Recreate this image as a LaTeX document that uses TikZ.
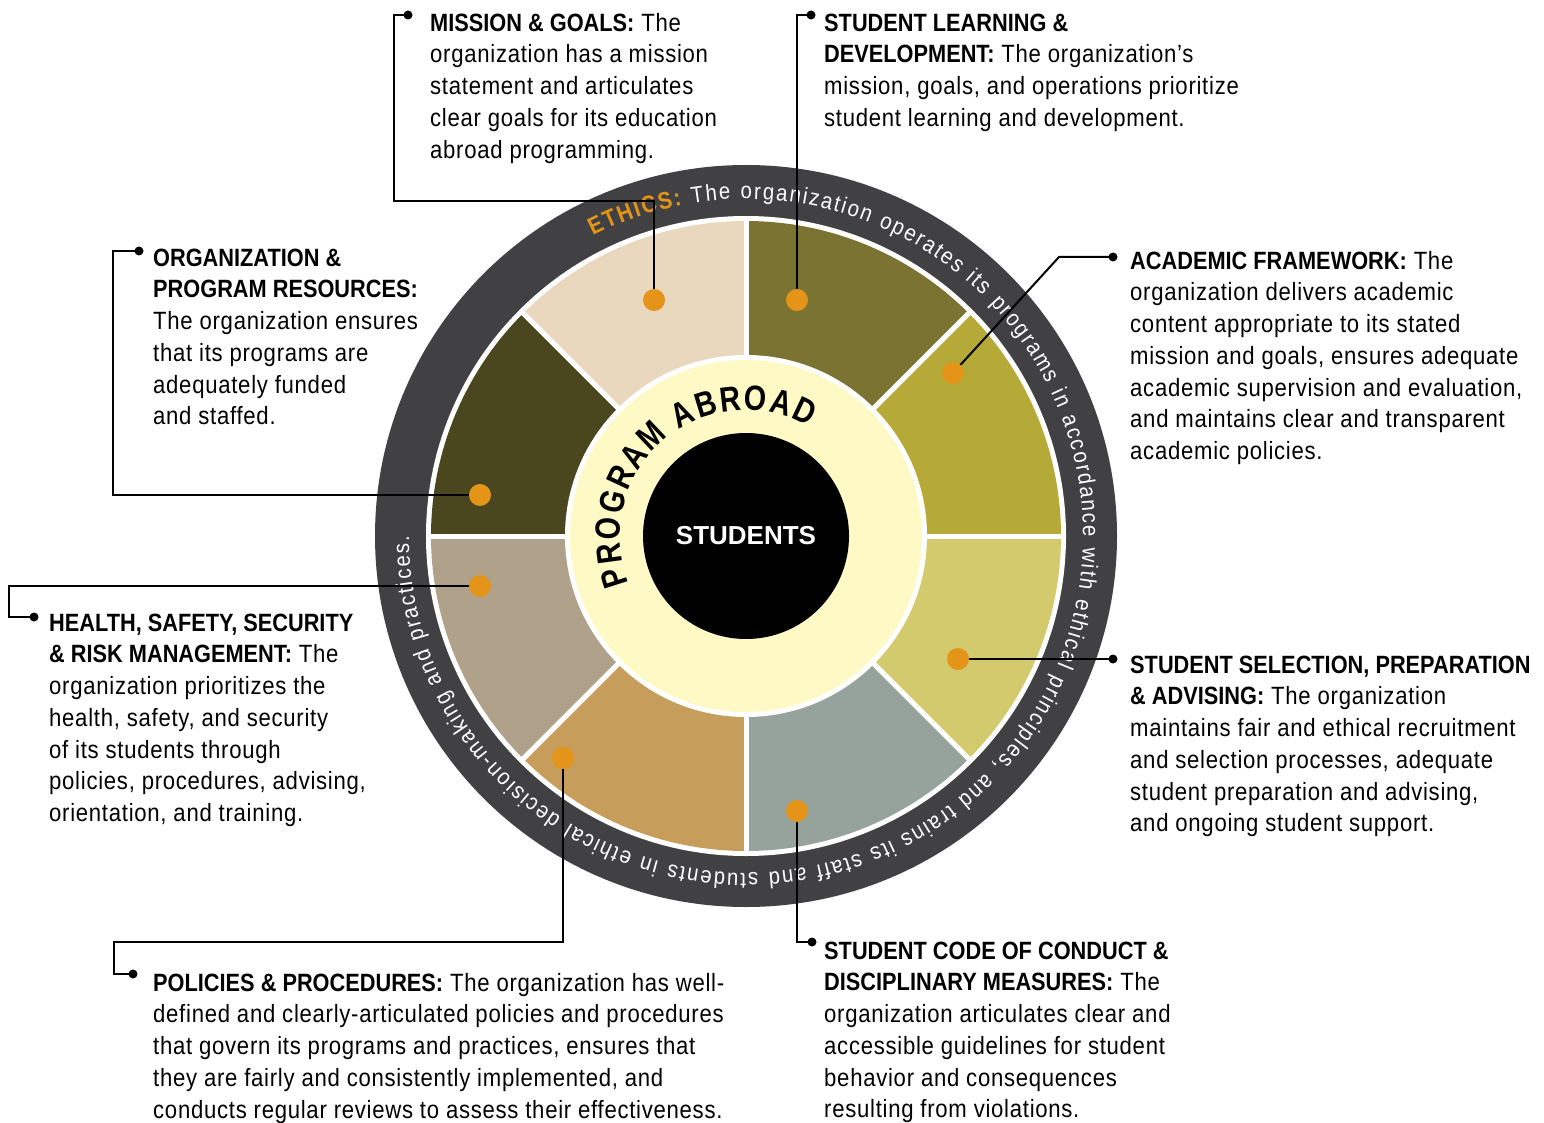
\documentclass[tikz,border=0pt]{standalone}
\usepackage{fontspec}
\setmainfont{Liberation Sans}[FakeStretch=0.885,LetterSpace=2.9]
\newfontfamily\hdfont{Liberation Sans}[FakeStretch=0.87]
\newfontfamily\pafont{Liberation Sans}[FakeStretch=0.82]
\newfontfamily\plainsans{Liberation Sans}
\usetikzlibrary{decorations.text}
\definecolor{ringc}{HTML}{414042}
\definecolor{segA}{HTML}{B5AA37}
\definecolor{segB}{HTML}{7A7332}
\definecolor{segC}{HTML}{E9D8BE}
\definecolor{segD}{HTML}{4A461E}
\definecolor{segE}{HTML}{B0A18A}
\definecolor{segF}{HTML}{C79D5B}
\definecolor{segG}{HTML}{95A39C}
\definecolor{segH}{HTML}{D3C96D}
\definecolor{orng}{HTML}{E39419}
\definecolor{cream}{HTML}{FFF9C6}
\newcommand\hd[1]{{\hdfont\bfseries #1}}
\newcommand\fl{\rule{0pt}{20pt}}
\tikzset{
  blk/.style={anchor=north west, inner sep=0pt, align=left, font=\fontsize{25}{31.75}\selectfont},
  lead/.style={line width=2pt, black},
}
\begin{document}
\begin{tikzpicture}[x=1pt,y=1pt]
\useasboundingbox (0,0) rectangle (1544,-1123);
\fill[white] (0,0) rectangle (1544,-1123);
\coordinate (C) at (746,-536);
% wheel
\fill[ringc] (C) circle (371);
\fill[white] (C) circle (320);
\foreach \a/\c in {0/segA,45/segB,90/segC,135/segD,180/segE,225/segF,270/segG,315/segH}
  \fill[\c] (C) -- ++(\a:315) arc[start angle=\a, end angle=\a+45, radius=315] -- cycle;
\foreach \a in {0,45,...,315}
  \draw[white, line width=5pt] (C) -- ++(\a:317);
\fill[white] (C) circle (181);
\fill[cream] (C) circle (176);
\fill[black] (C) circle (103);
\node[font=\plainsans\bfseries\fontsize{26}{26}\selectfont, text=white] (stu) at (C) {STUDENTS};
\path[shift={(C)}, decorate, decoration={text along path, text align={fit to path},
  text={|\pafont\bfseries\fontsize{35}{35}\selectfont|PROGRAM ABROAD}}]
  (202:126) arc[start angle=202, end angle=60, radius=126];
\path[shift={(C)}, decorate, decoration={text along path, text align={fit to path},
  text={|\hdfont\bfseries\fontsize{24}{24}\selectfont\color{orng}|ETHICS:|\fontsize{23}{23}\selectfont\color{white}| The organization operates its programs in accordance with ethical principles, and trains its staff and students in ethical decision-making and practices.}}]
  (117:337) arc[start angle=117, end angle=-180, radius=337];
% dots
\coordinate (d1) at (654,-300);
\coordinate (d2) at (797,-300);
\coordinate (d3) at (953,-373);
\coordinate (d4) at (480,-495);
\coordinate (d5) at (480,-586);
\coordinate (d6) at (563,-758);
\coordinate (d7) at (797,-811);
\coordinate (d8) at (958,-659);
\coordinate (p1) at (408,-15);
\coordinate (p2) at (811,-15);
\coordinate (p3) at (1113,-257);
\coordinate (p4) at (139,-251);
\coordinate (p5) at (34,-617);
\coordinate (p6) at (133,-974);
\coordinate (p7) at (812,-942);
\coordinate (p8) at (1113,-659);
% leaders
\draw[lead] (p1) -| (394,-201) -| (d1);
\draw[lead] (p2) -| (d2);
\draw[lead] (p3) -- (1059,-257) -- (d3);
\draw[lead] (p4) -| (113,-495) -- (d4);
\draw[lead] (p5) -| (9,-586) -- (d5);
\draw[lead] (p6) -| (114,-942) -| (d6);
\draw[lead] (p7) -| (d7);
\draw[lead] (p8) -- (d8);
\foreach \i in {1,...,8} {
  \fill[black] (p\i) circle (4.5);
  \fill[orng] (d\i) circle (11);
}
% text blocks
\node[blk] (t1) at (430,-11) {\fl\hd{MISSION \& GOALS:} The\\
organization has a mission\\
statement and articulates\\
clear goals for its education\\
abroad programming.};
\node[blk] (t2) at (824,-11) {\fl\hd{STUDENT LEARNING \&}\\
\hd{DEVELOPMENT:} The organization’s\\
mission, goals, and operations prioritize\\
student learning and development.};
\node[blk] (t3) at (1130,-249) {\fl\hd{ACADEMIC FRAMEWORK:} The\\
organization delivers academic\\
content appropriate to its stated\\
mission and goals, ensures adequate\\
academic supervision and evaluation,\\
and maintains clear and transparent\\
academic policies.};
\node[blk] (t4) at (153,-246) {\fl\hd{ORGANIZATION \&}\\
\hd{PROGRAM RESOURCES:}\\
The organization ensures\\
that its programs are\\
adequately funded\\
and staffed.};
\node[blk] (t5) at (49,-611) {\fl\hd{HEALTH, SAFETY, SECURITY}\\
\hd{\& RISK MANAGEMENT:} The\\
organization prioritizes the\\
health, safety, and security\\
of its students through\\
policies, procedures, advising,\\
orientation, and training.};
\node[blk] (t6) at (153,-971) {\fl\hd{POLICIES \& PROCEDURES:} The organization has well-\\
defined and clearly-articulated policies and procedures\\
that govern its programs and practices, ensures that\\
they are fairly and consistently implemented, and\\
conducts regular reviews to assess their effectiveness.};
\node[blk] (t7) at (824,-939) {\fl\hd{STUDENT CODE OF CONDUCT \&}\\
\hd{DISCIPLINARY MEASURES:} The\\
organization articulates clear and\\
accessible guidelines for student\\
behavior and consequences\\
resulting from violations.};
\node[blk] (t8) at (1130,-653) {\fl\hd{STUDENT SELECTION, PREPARATION}\\
\hd{\& ADVISING:} The organization\\
maintains fair and ethical recruitment\\
and selection processes, adequate\\
student preparation and advising,\\
and ongoing student support.};
\end{tikzpicture}
\end{document}
